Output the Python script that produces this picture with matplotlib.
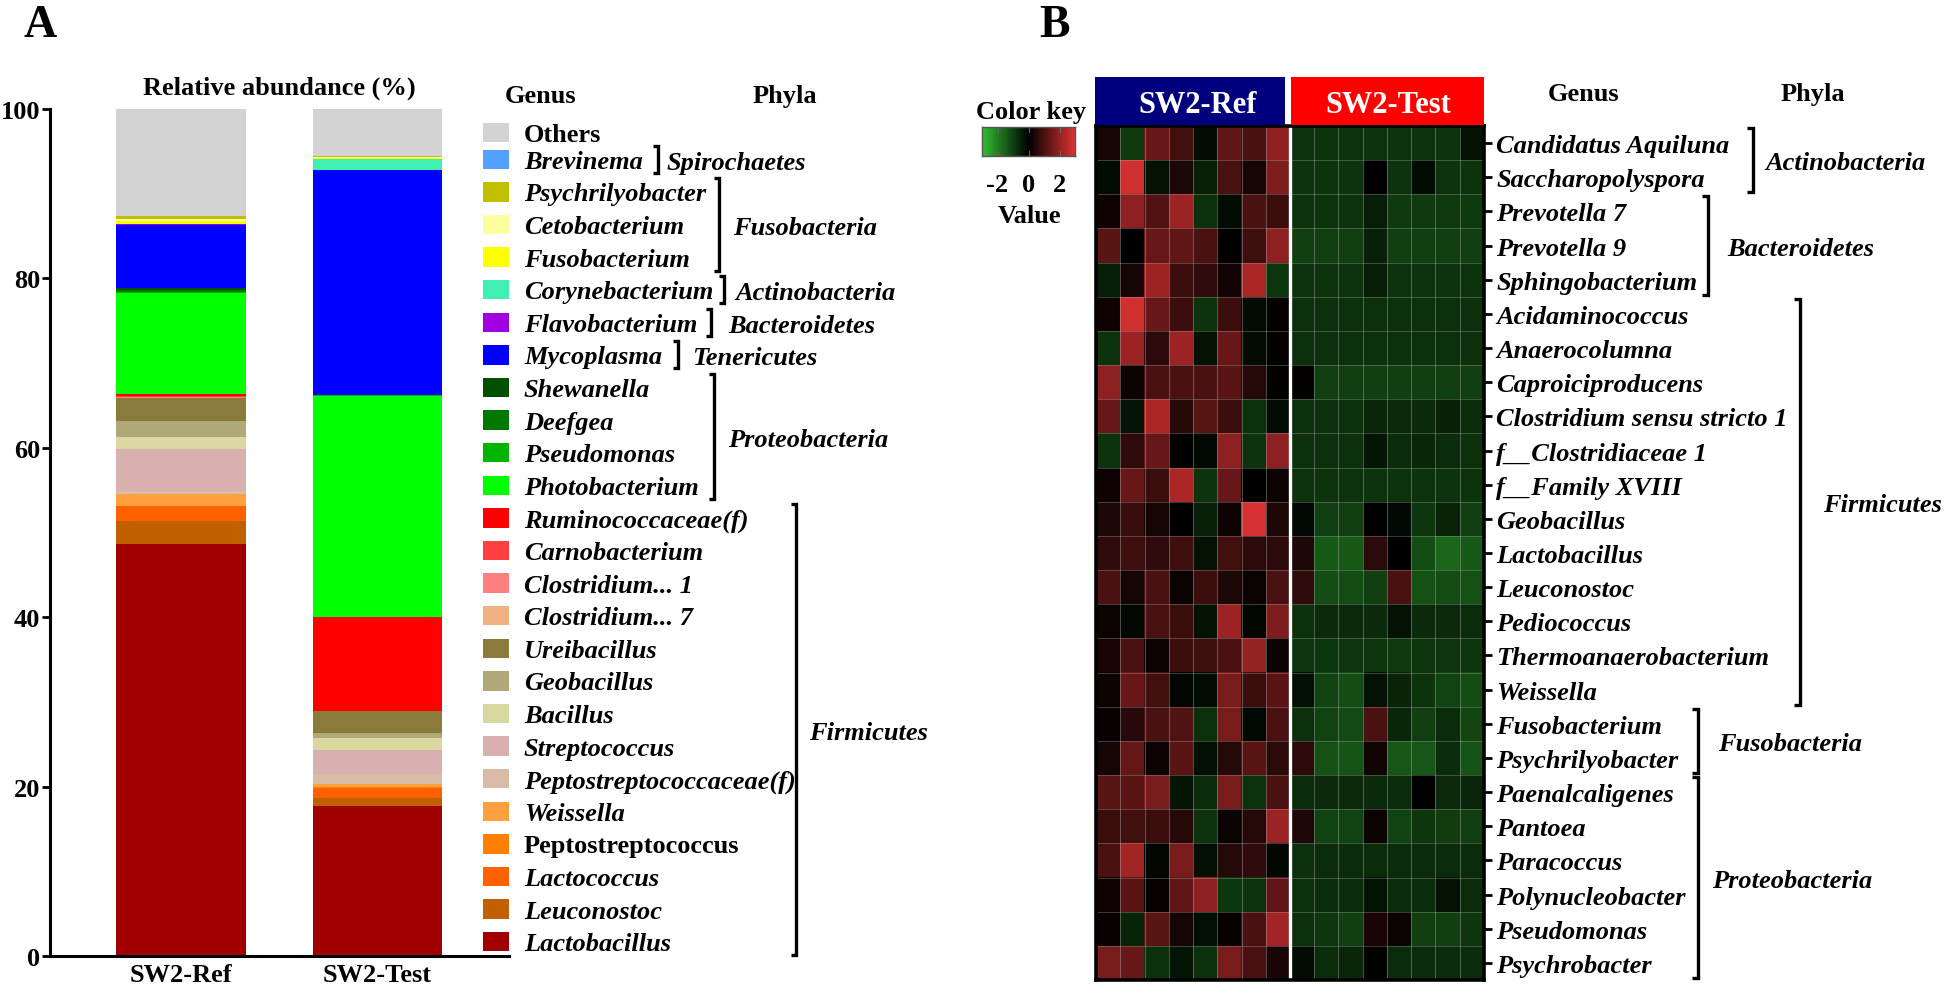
import matplotlib
matplotlib.use('Agg')
import matplotlib.pyplot as plt
import numpy as np
from matplotlib.colors import LinearSegmentedColormap
from matplotlib.patches import Rectangle
from matplotlib.lines import Line2D

W, H, DPI = 1946, 995, 100
plt.rcParams['font.family'] = ['Liberation Serif', 'DejaVu Serif']
plt.rcParams['font.weight'] = 'bold'

# ---------------- Panel A data ----------------
samples = ['SW2-Ref', 'SW2-Test']
genera = ['Others', 'Brevinema', 'Psychrilyobacter', 'Cetobacterium', 'Fusobacterium',
          'Corynebacterium', 'Flavobacterium', 'Mycoplasma', 'Shewanella', 'Deefgea',
          'Pseudomonas', 'Photobacterium', 'Ruminococcaceae(f)', 'Carnobacterium',
          'Clostridium... 1', 'Clostridium... 7', 'Ureibacillus', 'Geobacillus', 'Bacillus',
          'Streptococcus', 'Peptostreptococcaceae(f)', 'Weissella', 'Peptostreptococcus',
          'Lactococcus', 'Leuconostoc', 'Lactobacillus']
genus_colors = ['#d3d3d3', '#55a0ff', '#c0c000', '#ffffa0', '#ffff00',
                '#40f0b0', '#a000e0', '#0000ff', '#005000', '#007800',
                '#00b400', '#00ff00', '#ff0000', '#ff4040',
                '#ff8080', '#f0b080', '#8b7b3a', '#b0a878', '#d8d8a0',
                '#d8b0b0', '#d8bca8', '#ffa040', '#ff8000',
                '#ff6000', '#c06000', '#a00000']
ref_abund = [12.6, 0.05, 0.35, 0.25, 0.3, 0.05, 0.1, 7.4, 0.3, 0.2, 0.1, 12.0, 0.2, 0.1,
             0.1, 0.05, 2.7, 1.9, 1.45, 4.85, 0.35, 1.45, 0.05, 1.75, 2.65, 48.7]
test_abund = [5.5, 0.05, 0.15, 0.05, 0.15, 1.25, 0.02, 26.6, 0.02, 0.02, 0.02, 26.1, 11.1, 0.02,
              0.02, 0.02, 2.55, 0.6, 1.4, 2.85, 1.25, 0.3, 0.1, 1.25, 0.9, 17.7]
upright = ['Others', 'Peptostreptococcus']
phyla_A = [  # name, first row, last row
    ('Spirochaetes', 1, 1), ('Fusobacteria', 2, 4), ('Actinobacteria', 5, 5),
    ('Bacteroidetes', 6, 6), ('Tenericutes', 7, 7), ('Proteobacteria', 8, 11),
    ('Firmicutes', 12, 25)]

# ---------------- Panel B data ----------------
heat_genera = ['Candidatus Aquiluna', 'Saccharopolyspora', 'Prevotella 7', 'Prevotella 9',
               'Sphingobacterium', 'Acidaminococcus', 'Anaerocolumna', 'Caproiciproducens',
               'Clostridium sensu stricto 1', 'f__Clostridiaceae 1', 'f__Family XVIII',
               'Geobacillus', 'Lactobacillus', 'Leuconostoc', 'Pediococcus',
               'Thermoanaerobacterium', 'Weissella', 'Fusobacterium', 'Psychrilyobacter',
               'Paenalcaligenes', 'Pantoea', 'Paracoccus', 'Polynucleobacter', 'Pseudomonas',
               'Psychrobacter']
heat_ref = [
    [0.3, -0.9, 1.4, 0.9, -0.2, 1.3, 1.0, 1.9],
    [-0.2, 2.8, -0.3, 0.4, -0.5, 1.0, 0.3, 1.7],
    [0.2, 1.9, 1.1, 2.1, -0.75, -0.2, 1.0, 0.8],
    [1.2, 0.0, 1.4, 1.3, 1.0, 0.0, 0.85, 1.9],
    [-0.45, 0.3, 2.1, 0.8, 0.65, 0.25, 2.3, -0.85],
    [0.2, 2.8, 1.4, 0.8, -0.8, 0.8, -0.2, 0.05],
    [-0.8, 2.1, 0.6, 2.1, -0.3, 1.4, -0.2, 0.05],
    [1.9, 0.2, 1.0, 1.0, 1.0, 1.2, 0.5, 0.05],
    [1.4, -0.35, 2.3, 0.5, 1.2, 0.8, -0.75, -0.2],
    [-0.8, 0.65, 1.4, 0.0, -0.15, 1.9, -0.8, 1.9],
    [0.2, 1.4, 0.8, 2.3, -0.8, 1.4, 0.0, 0.2],
    [0.4, 0.75, 0.3, 0.0, -0.5, 0.2, 2.9, 0.4],
    [0.65, 0.85, 0.65, 0.85, -0.3, 0.9, 0.6, 0.6],
    [1.0, 0.3, 1.0, 0.15, 0.8, 0.4, 0.15, 1.0],
    [0.15, -0.15, 1.0, 0.8, -0.3, 2.1, -0.1, 1.7],
    [0.35, 1.0, 0.2, 0.8, 0.85, 1.0, 2.0, 0.2],
    [0.15, 1.4, 0.9, -0.1, -0.2, 1.6, 0.8, 1.2],
    [0.1, 0.55, 1.0, 1.1, -0.75, 1.6, -0.15, 1.0],
    [0.3, 1.35, 0.2, 1.2, -0.25, 0.5, 1.2, 0.6],
    [1.2, 1.2, 1.6, -0.35, -0.7, 1.6, -0.8, 1.0],
    [0.8, 0.9, 0.8, 0.5, -0.8, 0.15, 0.5, 2.1],
    [1.0, 2.2, -0.1, 1.6, -0.25, 0.5, 0.65, -0.1],
    [0.2, 1.2, 0.1, 1.3, 1.9, -0.85, -0.8, 1.3],
    [0.1, -0.55, 1.2, 0.3, -0.25, 0.1, 1.0, 2.2],
    [1.6, 1.4, -0.75, -0.35, -0.75, 1.6, 1.0, 0.35],
]
heat_test = [
    [-0.8, -0.8, -0.8, -0.8, -0.8, -0.8, -0.8, -0.3],
    [-0.8, -0.8, -0.8, 0.0, -0.8, -0.2, -0.8, -0.8],
    [-0.8, -0.8, -0.8, -0.45, -0.9, -0.9, -0.9, -0.9],
    [-1.0, -1.0, -1.0, -0.5, -1.0, -1.0, -1.0, -1.0],
    [-0.8, -0.8, -0.8, -0.45, -0.8, -0.8, -0.8, -0.8],
    [-0.75, -0.75, -0.75, -0.75, -0.75, -0.75, -0.75, -0.75],
    [-0.75, -0.75, -0.75, -0.75, -0.75, -0.75, -0.75, -0.75],
    [0.05, -1.0, -1.0, -1.0, -1.0, -1.0, -1.0, -1.0],
    [-0.75, -0.75, -0.75, -0.6, -0.65, -0.65, -0.5, -0.7],
    [-0.75, -0.75, -0.75, -0.35, -0.7, -0.6, -0.7, -0.75],
    [-0.8, -0.8, -0.8, -0.8, -0.8, -0.8, -0.8, -0.8],
    [-0.15, -1.0, -1.0, 0.0, -0.15, -0.85, -0.55, -1.0],
    [0.4, -1.4, -1.4, 0.6, 0.0, -1.2, -1.6, -1.4],
    [0.65, -1.2, -1.2, -1.0, 1.0, -1.25, -1.2, -1.25],
    [-0.75, -0.65, -0.65, -0.65, -0.3, -0.65, -0.65, -0.7],
    [-0.85, -0.85, -0.85, -0.85, -0.9, -0.85, -0.85, -0.85],
    [-0.25, -1.05, -1.2, -0.3, -0.55, -0.8, -1.05, -1.2],
    [-0.75, -1.05, -1.15, 1.0, -0.6, -1.0, -0.7, -1.1],
    [0.6, -1.25, -1.3, 0.25, -1.35, -1.35, -0.7, -1.3],
    [-0.7, -0.65, -0.65, -0.65, -0.7, 0.0, -0.65, -0.6],
    [0.4, -1.05, -1.05, 0.15, -1.05, -0.85, -0.95, -1.0],
    [-0.75, -0.7, -0.7, -0.7, -0.7, -0.7, -0.7, -0.7],
    [-0.75, -0.7, -0.7, -0.3, -0.7, -0.7, -0.3, -0.7],
    [-0.75, -0.85, -1.0, 0.35, 0.15, -1.0, -1.0, -0.85],
    [-0.2, -0.7, -0.6, -0.05, -0.7, -0.7, -0.7, -0.7],
]
phyla_B = [('Actinobacteria', 0, 1), ('Bacteroidetes', 2, 4), ('Firmicutes', 5, 16),
           ('Fusobacteria', 17, 18), ('Proteobacteria', 19, 24)]
key_ticks = [-2, 0, 2]

# ---------------- helpers ----------------
fig = plt.figure(figsize=(W / DPI, H / DPI), dpi=DPI)
FS = 19


def fx(x):
    return x / W


def fy(y):
    return 1 - y / H


def ftext(x, y, s, **kw):
    kw.setdefault('fontsize', FS)
    kw.setdefault('fontweight', 'bold')
    fig.text(fx(x), fy(y), s, **kw)


def bracket(x, y0, y1, tick=6, lw=2.4):
    fig.add_artist(Line2D([fx(x - tick), fx(x), fx(x), fx(x - tick)],
                          [fy(y0), fy(y0), fy(y1), fy(y1)], color='black', lw=lw,
                          solid_joinstyle='miter', solid_capstyle='butt',
                          transform=fig.transFigure))


# ---------------- Panel A ----------------
axA = fig.add_axes([fx(50), fy(957), (509 - 50) / W, (957 - 110) / H])
xpos = np.arange(len(samples))
bottoms = np.zeros(len(samples))
for g, c, r, t in reversed(list(zip(genera, genus_colors, ref_abund, test_abund))):
    vals = np.array([r, t])
    axA.bar(xpos, vals, width=0.66, bottom=bottoms, color=c, edgecolor='none')
    bottoms += vals
axA.set_xlim(-0.667, 1.669)
axA.set_ylim(0, 100)
axA.set_yticks([0, 20, 40, 60, 80, 100])
axA.set_xticks(xpos)
axA.set_xticklabels(samples, fontsize=FS, fontweight='bold')
for s in ['top', 'right']:
    axA.spines[s].set_visible(False)
for s in ['left', 'bottom']:
    axA.spines[s].set_linewidth(2.2)
axA.tick_params(axis='y', length=6, width=2, labelsize=FS, pad=1)
axA.tick_params(axis='x', length=0, pad=5)
for lab in axA.get_yticklabels():
    lab.set_fontweight('bold')

ftext(279, 95, 'Relative abundance (%)', ha='center', va='baseline')
ftext(24, 37, 'A', fontsize=33, va='baseline')
ftext(505, 103, 'Genus', va='baseline')
ftext(785, 103, 'Phyla', ha='center', va='baseline')

row_y = [133.7] + [160.3 + 32.6 * (i - 1) for i in range(1, len(genera))]
for i, (g, c) in enumerate(zip(genera, genus_colors)):
    yc = row_y[i]
    fig.add_artist(Rectangle((fx(483), fy(yc + 9.75)), 26 / W, 19.5 / H, facecolor=c,
                             edgecolor='none', transform=fig.transFigure))
    ftext(524, yc + 8.5, g, va='baseline',
          fontstyle='normal' if g in upright else 'italic')

bracket_x_A = {'Spirochaetes': 658, 'Fusobacteria': 719, 'Actinobacteria': 724,
               'Bacteroidetes': 711, 'Tenericutes': 678, 'Proteobacteria': 714,
               'Firmicutes': 796}
text_x_A = {'Spirochaetes': 667, 'Fusobacteria': 733, 'Actinobacteria': 735,
            'Bacteroidetes': 728, 'Tenericutes': 692, 'Proteobacteria': 728,
            'Firmicutes': 809}
for name, r0, r1 in phyla_A:
    y0 = row_y[r0] - 13.5
    y1 = row_y[r1] + 13.5
    bracket(bracket_x_A[name], y0, y1, tick=5)
    ftext(text_x_A[name], (y0 + y1) / 2 + 9.5, name, va='baseline', fontstyle='italic')

# ---------------- Panel B ----------------
cmap = LinearSegmentedColormap.from_list(
    'gkr', [(0.0, (0.2, 0.75, 0.2)), (0.5, (0, 0, 0)), (1.0, (0.87, 0.2, 0.2))])
data = np.hstack([np.array(heat_ref), np.array(heat_test)])
nrow, ncol = data.shape
hx0, hx1, hy0, hy1 = 1096, 1484, 127, 981
axB = fig.add_axes([fx(hx0), fy(hy1), (hx1 - hx0) / W, (hy1 - hy0) / H])
axB.imshow(data, cmap=cmap, vmin=-3, vmax=3, aspect='auto', interpolation='nearest',
           extent=(0, ncol, nrow, 0))
for k in range(1, ncol):
    axB.axvline(k, color=(0.75, 0.75, 0.75), lw=0.6, alpha=0.45)
for k in range(1, nrow):
    axB.axhline(k, color=(0.75, 0.75, 0.75), lw=0.6, alpha=0.35)
axB.axvline(ncol / 2, color='white', lw=2.4)
axB.set_xlim(0, ncol)
axB.set_ylim(nrow, 0)
for s in axB.spines.values():
    s.set_linewidth(2.6)
axB.set_xticks([])
axB.yaxis.tick_right()
axB.set_yticks(np.arange(nrow) + 0.5)
axB.set_yticklabels(heat_genera, fontsize=FS, fontweight='bold', fontstyle='italic')
axB.tick_params(axis='y', length=6, width=2, pad=3)

# group header boxes
fig.add_artist(Rectangle((fx(1095), fy(126)), (1285 - 1095) / W, (126 - 78) / H,
                         facecolor='#00007f', edgecolor='none', transform=fig.transFigure))
fig.add_artist(Rectangle((fx(1291), fy(126)), (1484 - 1291) / W, (126 - 78) / H,
                         facecolor='#ff0000', edgecolor='none', transform=fig.transFigure))
ftext(1198, 113, 'SW2-Ref', color='white', fontsize=22, ha='center', va='baseline')
ftext(1388, 113, 'SW2-Test', color='white', fontsize=22, ha='center', va='baseline')

ftext(1054, 37, 'B', fontsize=33, ha='center', va='baseline')
ftext(1584, 101, 'Genus', ha='center', va='baseline')
ftext(1813, 101, 'Phyla', ha='center', va='baseline')

# color key
ftext(1031, 119, 'Color key', ha='center', va='baseline')
axK = fig.add_axes([fx(982), fy(157), (1075 - 982) / W, (157 - 128) / H])
axK.imshow(np.linspace(-3, 3, 256)[None, :], cmap=cmap, vmin=-3, vmax=3, aspect='auto',
           extent=(-3, 3, 0, 1))
axK.set_xlim(-3, 3)
axK.set_ylim(0, 1)
axK.set_yticks([])
axK.set_xticks([])
for s in axK.spines.values():
    s.set_linewidth(1.0)
    s.set_color('#555555')
for t in key_ticks:
    axK.plot([t, t], [0.82, 1.0], color='#666666', lw=0.8)
    axK.plot([t, t], [0.0, 0.18], color='#666666', lw=0.8)
for t in key_ticks:
    ftext(982 + (t + 3) / 6 * (1075 - 982), 192, str(t), ha='center', va='baseline')
ftext(1030, 223, 'Value', ha='center', va='baseline')

row_c = [hy0 + (hy1 - hy0) / nrow * (i + 0.5) for i in range(nrow)]
bracket_x_B = {'Actinobacteria': 1753, 'Bacteroidetes': 1708, 'Firmicutes': 1800,
               'Fusobacteria': 1698, 'Proteobacteria': 1698}
text_x_B = {'Actinobacteria': 1765, 'Bacteroidetes': 1727, 'Firmicutes': 1823,
            'Fusobacteria': 1718, 'Proteobacteria': 1712}
for name, r0, r1 in phyla_B:
    y0 = row_c[r0] - 15
    y1 = row_c[r1] + 15
    bracket(bracket_x_B[name], y0, y1, tick=6)
    ftext(text_x_B[name], (y0 + y1) / 2 + 9, name, va='baseline', fontstyle='italic')

fig.savefig('out.png', dpi=DPI)
